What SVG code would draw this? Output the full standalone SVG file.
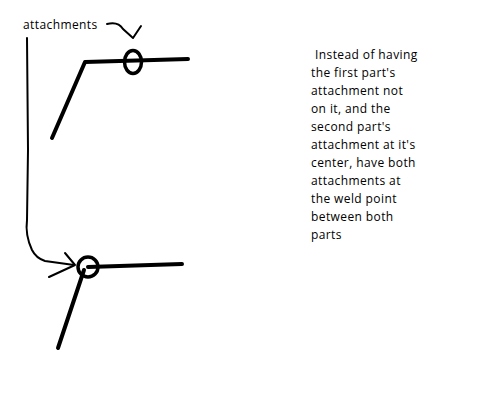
<svg xmlns="http://www.w3.org/2000/svg" width="500" height="400" viewBox="0 0 500 400">
<style>
.thick{fill:none;stroke:#000;stroke-width:4;stroke-linecap:round;stroke-linejoin:round}
.ring{fill:none;stroke:#000;stroke-width:3.5}
.thin{fill:none;stroke:#000;stroke-width:2;stroke-linecap:round;stroke-linejoin:round}
.t{font-family:"Open Sans","Noto Sans",sans-serif;font-size:12px;letter-spacing:0.4px;fill:#000}
.lbl{font-family:"Open Sans","Noto Sans",sans-serif;font-size:12px;letter-spacing:0.4px;fill:#000}
</style>
<rect width="500" height="400" fill="#fff"/>
<g id="label">
<text class="lbl" x="23" y="29">attachments</text>
</g>
<g id="part-top">
<polyline class="thick" points="52,138 85,62 188,59"/>
<ellipse class="ring" cx="133" cy="62" rx="8.5" ry="11.5"/>
</g>
<g id="part-bottom">
<polyline class="thick" points="58,348 84,270"/>
<line class="thick" x1="88" y1="267" x2="182" y2="264"/>
<circle class="ring" cx="88" cy="267" r="10"/>
</g>
<g id="connectors">
<path class="thin" d="M107,24 Q118,21 123,29 L133,38 L141,26"/>
<path class="thin" d="M27,38 L28,150 L27,220 Q25,235 32,250 Q36,258 45,261 L74,265"/>
<path class="thin" d="M65,253 L75,265 L49,277"/>
</g>
<g id="note">
<text class="t" x="315" y="59">Instead of having</text>
<text class="t" x="311" y="77">the first part's</text>
<text class="t" x="311" y="95">attachment not</text>
<text class="t" x="311" y="113">on it, and the</text>
<text class="t" x="311" y="131">second part's</text>
<text class="t" x="311" y="149">attachment at it's</text>
<text class="t" x="311" y="167">center, have both</text>
<text class="t" x="311" y="185">attachments at</text>
<text class="t" x="311" y="203">the weld point</text>
<text class="t" x="311" y="221">between both</text>
<text class="t" x="311" y="239">parts</text>
</g>
</svg>
